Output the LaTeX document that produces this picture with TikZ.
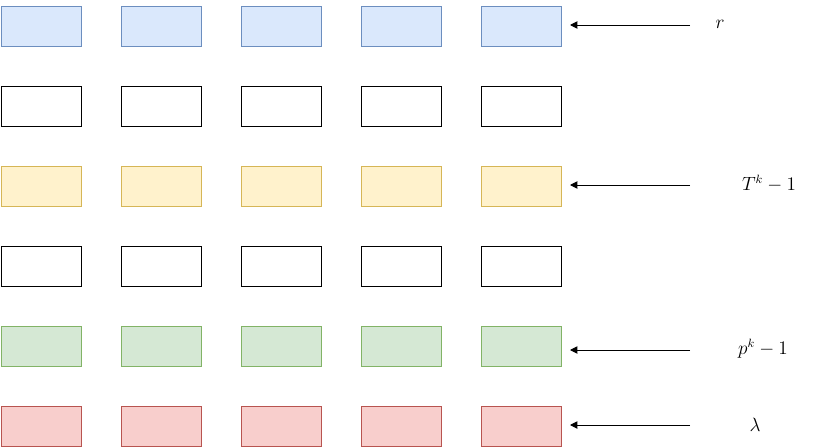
\documentclass[tikz,border=0pt]{standalone}
\usetikzlibrary{arrows.meta}
\definecolor{bfill}{HTML}{DAE8FC}\definecolor{bdraw}{HTML}{6C8EBF}
\definecolor{yfill}{HTML}{FFF2CC}\definecolor{ydraw}{HTML}{D6B656}
\definecolor{gfill}{HTML}{D5E8D4}\definecolor{gdraw}{HTML}{82B366}
\definecolor{rfill}{HTML}{F8CECC}\definecolor{rdraw}{HTML}{B85450}
\tikzset{
  cell/.style={rectangle, minimum width=60pt, minimum height=30pt, inner sep=0pt, line width=0.75pt, anchor=north west},
  bluecell/.style={cell, fill=bfill, draw=bdraw},
  whitecell/.style={cell, fill=white, draw=black},
  yellowcell/.style={cell, fill=yfill, draw=ydraw},
  greencell/.style={cell, fill=gfill, draw=gdraw},
  redcell/.style={cell, fill=rfill, draw=rdraw},
  pointer/.style={-{Triangle[length=5.5pt,width=5.5pt]}, line width=0.75pt},
  lbl/.style={inner sep=0pt, font=\fontsize{13.5pt}{16pt}\selectfont}
}
\begin{document}
\begin{tikzpicture}[x=0.75pt,y=-0.75pt]
\useasboundingbox (0,0) rectangle (831,446);
\foreach \r/\st/\yy in {1/bluecell/5.5, 2/whitecell/85.5, 3/yellowcell/165.5, 4/whitecell/245.5, 5/greencell/325.5, 6/redcell/405.5}{
  \foreach \c in {1,...,5}{
    \node[\st] (b\r\c) at ({0.5+(\c-1)*120},\yy) {};
  }
}
\coordinate (s1) at (690,25);
\coordinate (s3) at (690,185);
\coordinate (s5) at (690,350);
\coordinate (s6) at (690,425);
\coordinate (e1) at (570,25);
\coordinate (e3) at (570,185);
\coordinate (e5) at (570,350);
\coordinate (e6) at (570,425);
\draw[pointer] (s1) -- (e1);
\draw[pointer] (s3) -- (e3);
\draw[pointer] (s5) -- (e5);
\draw[pointer] (s6) -- (e6);
\node[lbl] (l1) at (720,24) {$r$};
\node[lbl] (l3) at (769,184) {$T^k-1$};
\node[lbl] (l5) at (763,349) {$p^k-1$};
\node[lbl] (l6) at (755,425) {$\lambda$};
\end{tikzpicture}
\end{document}
